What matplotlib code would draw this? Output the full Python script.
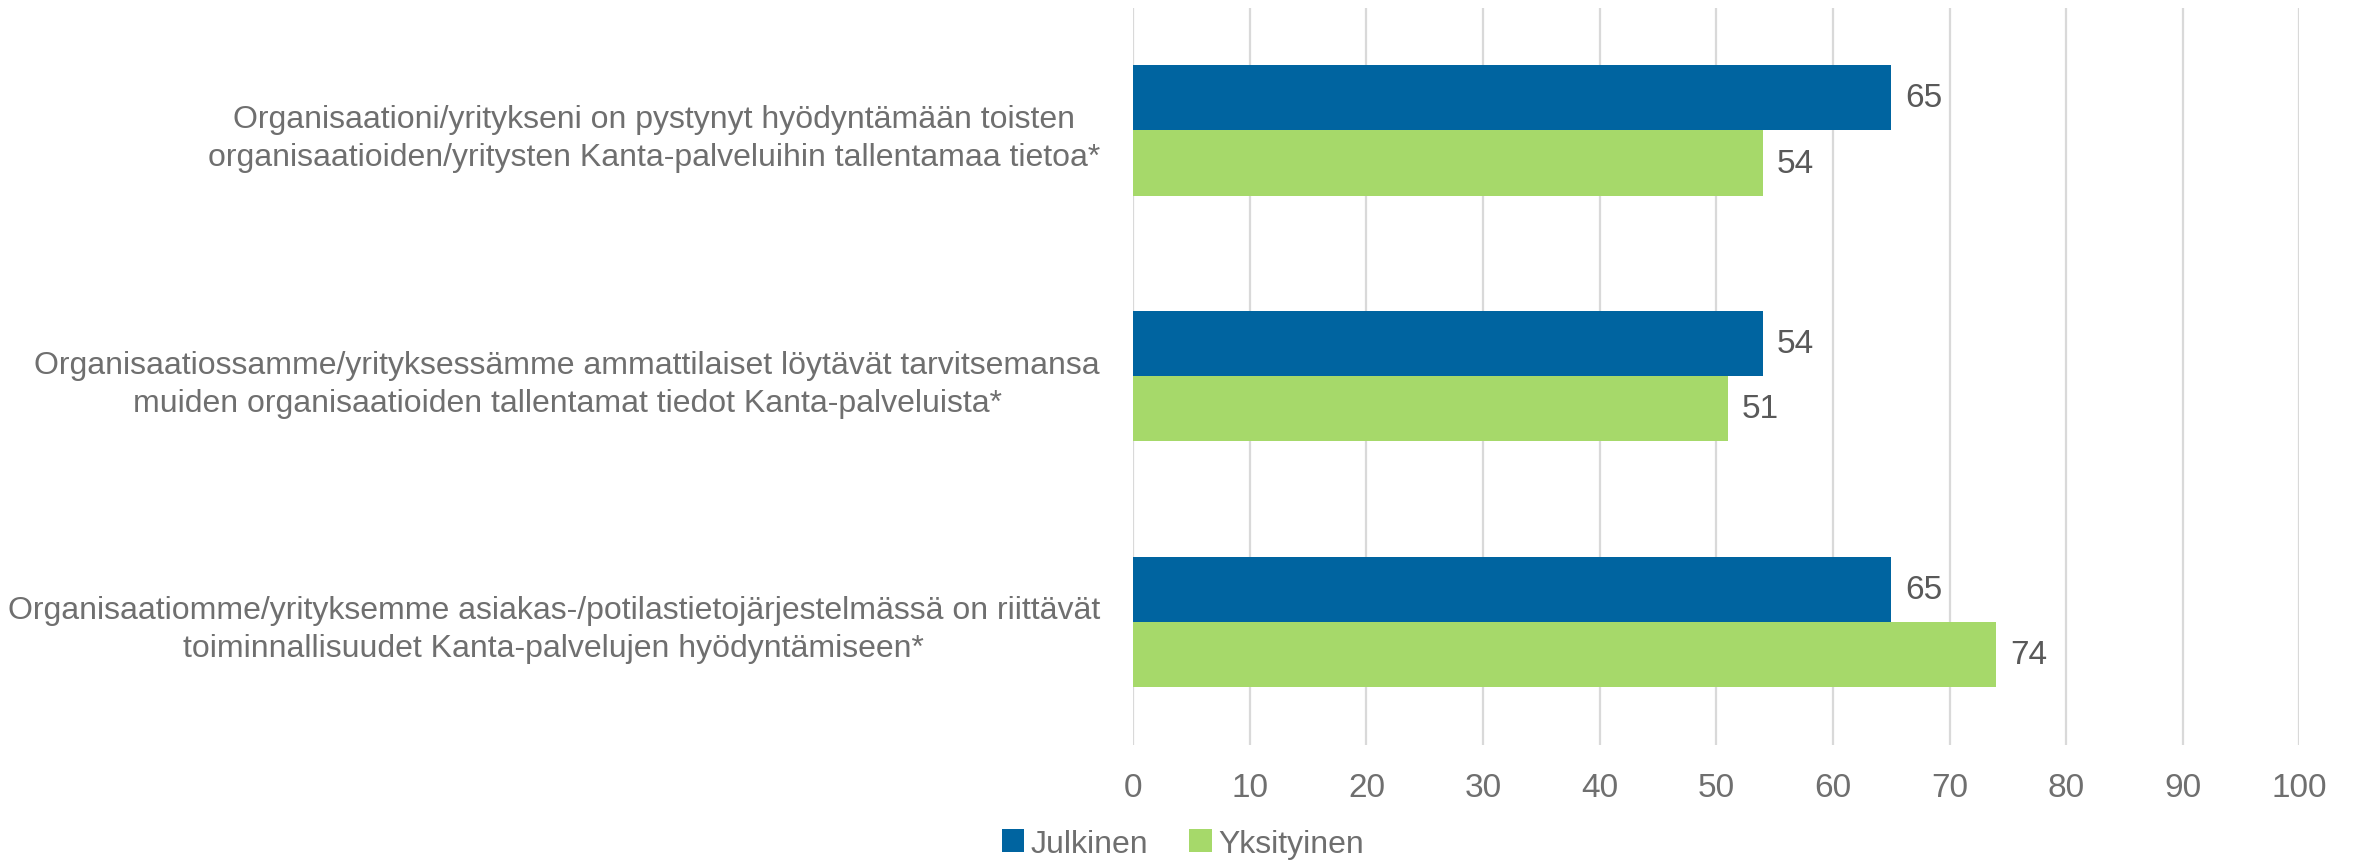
"""
Kanta-palvelut: julkinen vs. yksityinen, vaakapalkit.
"""

import matplotlib.pyplot as plt
import numpy as np

categories = [
    "Organisaationi/yritykseni on pystynyt hyödyntämään toisten\n"
    "organisaatioiden/yritysten Kanta-palveluihin tallentamaa tietoa*",
    "Organisaatiossamme/yrityksessämme ammattilaiset löytävät tarvitsemansa\n"
    "muiden organisaatioiden tallentamat tiedot Kanta-palveluista*",
    "Organisaatiomme/yrityksemme asiakas-/potilastietojärjestelmässä on riittävät\n"
    "toiminnallisuudet Kanta-palvelujen hyödyntämiseen*",
]
julkinen = [65, 54, 65]
yksityinen = [54, 51, 74]
series_names = ["Julkinen", "Yksityinen"]
x_ticks = list(range(0, 101, 10))

BLUE = "#0064A0"
GREEN = "#A6D96A"
TEXT = "#595959"
FS = 23

plt.rcParams["font.family"] = ["Liberation Sans", "DejaVu Sans"]

fig = plt.figure(figsize=(23.56, 8.62), dpi=100)
ax = fig.add_axes([0.481, 0.135, 0.495, 0.855])

y = np.arange(len(categories))
h = 0.265
b1 = ax.barh(y - h / 2, julkinen, height=h, color=BLUE, label=series_names[0], zorder=3)
b2 = ax.barh(y + h / 2, yksityinen, height=h, color=GREEN, label=series_names[1], zorder=3)

for bars, vals in ((b1, julkinen), (b2, yksityinen)):
    for bar, v in zip(bars, vals):
        ax.annotate(f"{v}", (v, bar.get_y() + bar.get_height() / 2),
                    xytext=(14, 0), textcoords="offset pixels",
                    ha="left", va="center", fontsize=FS + 1, color=TEXT)

ax.set_xlim(0, 100)
ax.set_ylim(len(categories) - 0.5, -0.5)
ax.set_xticks(x_ticks)
ax.set_yticks(y)
ax.set_yticklabels(categories, multialignment="center", linespacing=1.35)
ax.tick_params(axis="y", length=0, pad=24, labelsize=FS, labelcolor="#6f6f6f")
ax.tick_params(axis="x", length=0, pad=20, labelsize=FS + 1, labelcolor="#6f6f6f")
ax.grid(axis="x", color="#d9d9d9", linewidth=1.6, zorder=0)
for s in ax.spines.values():
    s.set_visible(False)

fig.legend(handles=[b1, b2], labels=series_names, loc="center", bbox_to_anchor=(0.502, 0.02),
           ncol=2, frameon=False, fontsize=FS, labelcolor="#6f6f6f",
           handlelength=0.7, handleheight=0.7, handletextpad=0.2, columnspacing=1.3)

fig.savefig("out.png", dpi=100)
